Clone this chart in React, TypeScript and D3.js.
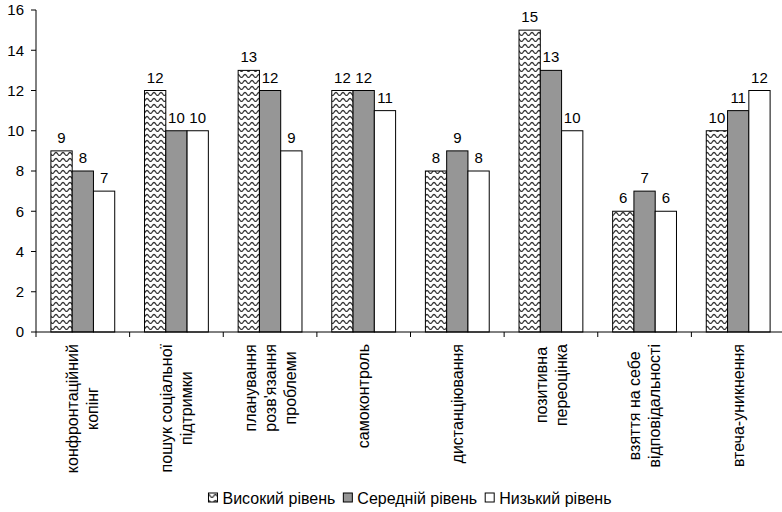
import { useEffect, useRef } from 'react';
import * as d3 from 'd3';

// categories (each one split into lines as in the original)
const categories = [
  ['конфронтаційний', 'копінг'],
  ['пошук соціальної', 'підтримки'],
  ['планування', "розв'язання", 'проблеми'],
  ['самоконтроль'],
  ['дистанціювання'],
  ['позитивна', 'переоцінка'],
  ['взяття на себе', 'відповідальності'],
  ['втеча-уникнення'],
];
const seriesNames = ['Високий рівень', 'Середній рівень', 'Низький рівень'];
const high = [9, 12, 13, 12, 8, 15, 6, 10];
const middle = [8, 10, 12, 12, 9, 13, 7, 11];
const low = [7, 10, 9, 11, 8, 10, 6, 12];
const yTicks = [0, 2, 4, 6, 8, 10, 12, 14, 16];

const W = 782;
const H = 512;
const FONT = '"Liberation Sans", Arial, sans-serif';

export default function App() {
  const svgRef = useRef<SVGSVGElement>(null);

  useEffect(() => {
    if (!svgRef.current) return;
    const svg = d3.select(svgRef.current);
    svg.selectAll('*').remove();

    const margin = { left: 36, top: 10, bottom: 332 };
    const x = d3.scaleBand<number>().domain(d3.range(categories.length)).range([margin.left, 785]);
    const xs = d3.scaleBand<number>().domain([0, 1, 2]).range([0, x.bandwidth()]).paddingOuter(0.7);
    const y = d3.scaleLinear().domain([0, 16]).range([margin.bottom, margin.top]);

    // wavy hatch for the first series
    const defs = svg.append('defs');
    const pat = defs.append('pattern').attr('id', 'wave').attr('patternUnits', 'userSpaceOnUse')
      .attr('width', 7).attr('height', 6);
    pat.append('rect').attr('width', 7).attr('height', 6).attr('fill', '#fff');
    pat.append('path').attr('d', 'M-1.75,4 Q0,1 1.75,4 T5.25,4 T8.75,4')
      .attr('fill', 'none').attr('stroke', '#333').attr('stroke-width', 1.3);

    const fills = ['url(#wave)', '#969696', '#ffffff'];
    const values = [high, middle, low];

    // y axis
    svg.append('line').attr('x1', margin.left).attr('x2', margin.left)
      .attr('y1', y(16)).attr('y2', y(0)).attr('stroke', '#000');
    const yt = svg.append('g');
    yTicks.forEach((t) => {
      yt.append('line').attr('x1', margin.left - 5).attr('x2', margin.left)
        .attr('y1', y(t)).attr('y2', y(t)).attr('stroke', '#000');
      yt.append('text').attr('x', margin.left - 12).attr('y', y(t)).attr('dy', '0.35em')
        .attr('text-anchor', 'end').attr('font-size', 15).attr('font-family', FONT).text(t);
    });

    // bars
    values.forEach((vals, s) => {
      const g = svg.append('g');
      vals.forEach((v, i) => {
        const bx = (x(i) ?? 0) + (xs(s) ?? 0);
        g.append('rect').attr('x', bx).attr('y', y(v)).attr('width', xs.bandwidth())
          .attr('height', y(0) - y(v)).attr('fill', fills[s]).attr('stroke', '#000').attr('stroke-width', 1);
        g.append('text').attr('x', bx + xs.bandwidth() / 2).attr('y', y(v) - 8)
          .attr('text-anchor', 'middle').attr('font-size', 15).attr('font-family', FONT).text(v);
      });
    });

    // x axis
    svg.append('line').attr('x1', margin.left).attr('x2', 785)
      .attr('y1', y(0)).attr('y2', y(0)).attr('stroke', '#000');
    categories.forEach((lines, i) => {
      const x0 = x(i) ?? 0;
      svg.append('line').attr('x1', x0).attr('x2', x0).attr('y1', y(0)).attr('y2', y(0) + 5).attr('stroke', '#000');
      const cx = x0 + x.bandwidth() / 2;
      const lg = svg.append('g').attr('transform', `translate(${cx},344) rotate(-90)`);
      const texts = lines.map((ln, k) =>
        lg.append('text').attr('y', (k - (lines.length - 1) / 2) * 20).attr('dy', '0.35em')
          .attr('text-anchor', 'middle').attr('font-size', 16).attr('font-family', FONT).text(ln));
      const maxLen = d3.max(texts, (t) => (t.node() as SVGTextElement).getComputedTextLength()) ?? 0;
      texts.forEach((t) => t.attr('x', -maxLen / 2));
    });

    // legend
    const leg = svg.append('g');
    let lx = 0;
    seriesNames.forEach((name, s) => {
      leg.append('rect').attr('x', lx).attr('y', 493).attr('width', 9).attr('height', 9)
        .attr('fill', fills[s]).attr('stroke', '#000').attr('stroke-width', 1);
      const t = leg.append('text').attr('x', lx + 14).attr('y', 498).attr('dy', '0.35em')
        .attr('font-size', 16).attr('font-family', FONT).text(name);
      lx += 14 + (t.node() as SVGTextElement).getComputedTextLength() + 8;
    });
    leg.attr('transform', `translate(${410 - (lx - 8) / 2},0)`);
  }, []);

  return (
    <svg ref={svgRef} width={W} height={H}
      style={{ position: 'absolute', left: 0, top: 0, background: '#fff' }} />
  );
}
